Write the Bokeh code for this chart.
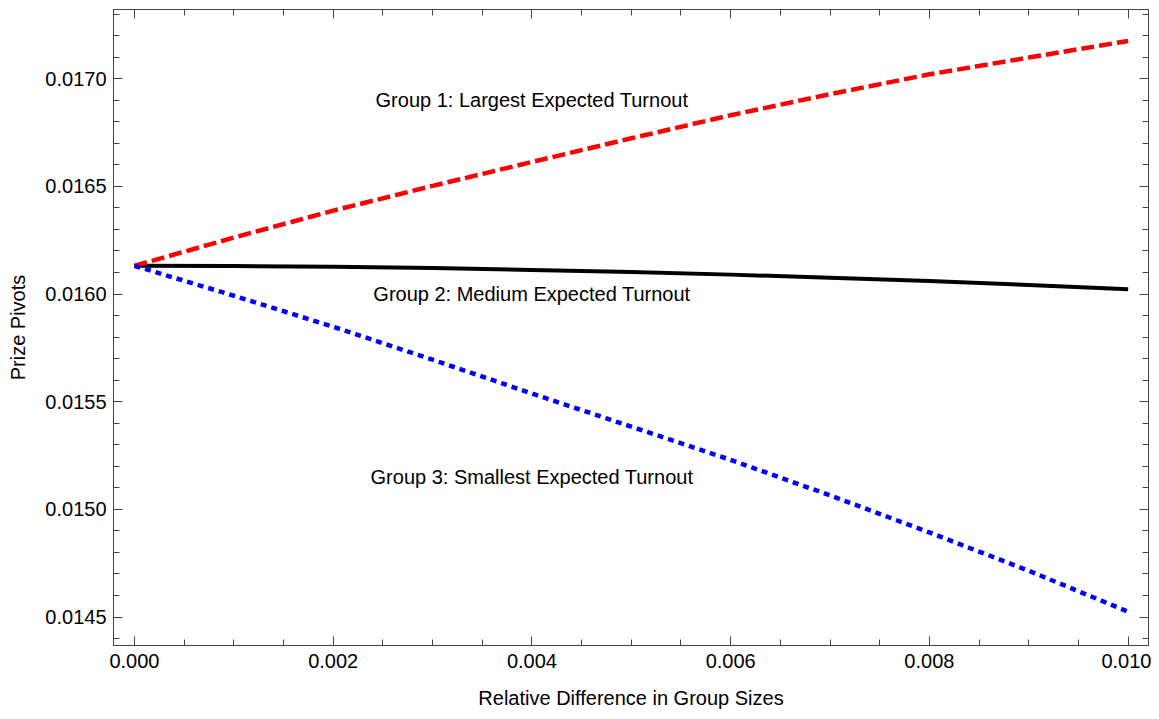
from bokeh.plotting import figure
from bokeh.models import (LinearAxis, FixedTicker, NumeralTickFormatter,
                          CustomJSTickFormatter, Range1d)
from bokeh.core.properties import value
from bokeh.embed import file_html
from bokeh.resources import INLINE

# ---- data ----
x_diff = [0.000, 0.001, 0.002, 0.003, 0.004, 0.005, 0.006, 0.007, 0.008, 0.009, 0.010]
group1_largest = [0.016131, 0.016262, 0.016387, 0.016502, 0.016613, 0.016723,
                  0.016830, 0.016928, 0.017020, 0.017098, 0.017175]
group2_medium = [0.016131, 0.016130, 0.016127, 0.016121, 0.016112, 0.016102,
                 0.016090, 0.016076, 0.016060, 0.016042, 0.016022]
group3_smallest = [0.016131, 0.015992, 0.015848, 0.015695, 0.015538, 0.015384,
                   0.015230, 0.015065, 0.014893, 0.014715, 0.014525]

x_major = [0.000, 0.002, 0.004, 0.006, 0.008, 0.010]
x_minor = [0.0005 * i for i in range(1, 21)]
y_major = [0.0145, 0.0150, 0.0155, 0.0160, 0.0165, 0.0170]
y_minor = [0.0144 + 0.0001 * i for i in range(0, 30)]

labels = ["Group 1: Largest Expected Turnout",
          "Group 2: Medium Expected Turnout",
          "Group 3: Smallest Expected Turnout"]
label_x = [0.004, 0.004, 0.004]
label_y = [0.01690, 0.01600, 0.01515]

FONT = "Liberation Sans"
FRAME = "#444444"

p = figure(width=1151, height=711,
           x_range=Range1d(-0.000211, 0.010205),
           y_range=Range1d(0.014368, 0.017321),
           output_backend="svg", toolbar_location=None,
           x_axis_label="Relative Difference in Group Sizes",
           y_axis_label="Prize Pivots",
           min_border_left=113, min_border_right=3,
           min_border_top=9, min_border_bottom=63)
p.xgrid.visible = False
p.ygrid.visible = False
p.outline_line_color = FRAME
p.background_fill_color = "white"
p.border_fill_color = "white"

xt = FixedTicker(ticks=x_major, minor_ticks=x_minor)
yt = FixedTicker(ticks=y_major, minor_ticks=y_minor)

def style(ax):
    ax.axis_line_color = FRAME
    ax.major_tick_line_color = FRAME
    ax.minor_tick_line_color = FRAME
    ax.major_tick_in = 9
    ax.major_tick_out = 0
    ax.minor_tick_in = 6
    ax.minor_tick_out = 0
    ax.major_label_text_font = FONT
    ax.major_label_text_font_size = "20px"
    ax.major_label_text_color = "black"
    ax.axis_label_text_font = FONT
    ax.axis_label_text_font_size = "20px"
    ax.axis_label_text_font_style = "normal"
    ax.axis_label_text_color = "black"

xa = p.xaxis[0]
xa.ticker = xt
xa.formatter = NumeralTickFormatter(format="0.000")
style(xa)
xa.major_label_standoff = 8
xa.axis_label_standoff = 16
xa.axis_label_text_line_height = 1.0

ya = p.yaxis[0]
ya.ticker = yt
ya.formatter = NumeralTickFormatter(format="0.0000")
style(ya)
ya.major_label_standoff = 7
ya.axis_label_standoff = 13

empty = CustomJSTickFormatter(code="return ''")
top = LinearAxis(ticker=xt, formatter=empty)
style(top)
top.major_label_standoff = 0
p.add_layout(top, "above")
right = LinearAxis(ticker=yt, formatter=empty)
style(right)
right.major_label_standoff = 0
p.add_layout(right, "right")

p.line(x_diff, group2_medium, line_color="black", line_width=4)
p.line(x_diff, group1_largest, line_color="#ff0000", line_width=4.5,
       line_dash="13 5")
p.line(x_diff, group3_smallest, line_color="#0000ff", line_width=4.5,
       line_dash="6 5")

p.text(x=label_x, y=label_y, text=labels, text_font=value(FONT),
       text_font_size="20px", text_align="center", text_baseline="middle",
       text_color="black")

open("out.html", "w").write(file_html(p, INLINE))
